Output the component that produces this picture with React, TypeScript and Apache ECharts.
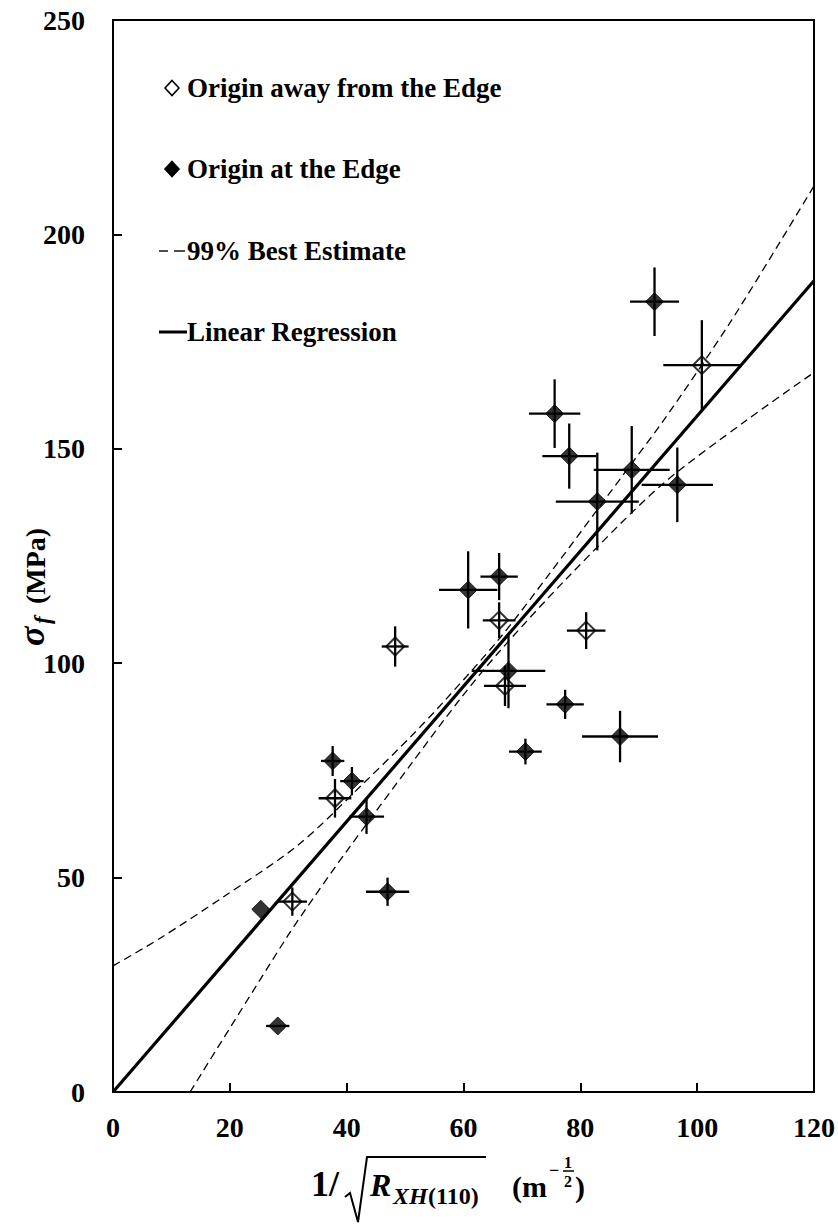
import React, { useEffect, useRef } from "react";
import * as echarts from "echarts";

// ---------- data ----------
const xTickStep = 20;
const yTickStep = 50;
const xRange = [0, 120];
const yRange = [0, 250];

// Origin away from the Edge (open diamonds)
const awayX = [100.8, 66.1, 67.1, 48.3, 81.0, 38.0, 30.7];
const awayY = [169.5, 110.0, 94.7, 103.9, 107.6, 68.5, 44.4];
const awayXErr = [6.6, 2.8, 3.6, 2.3, 3.3, 2.8, 2.5];
const awayYErr = [10.5, 4.2, 4.7, 4.7, 4.3, 4.5, 3.3];

// Origin at the Edge (filled diamonds)
const edgeX = [92.7, 75.6, 78.1, 88.8, 82.9, 96.6, 60.8, 66.1, 67.7, 77.4, 70.6, 86.8, 37.6, 40.9, 43.4, 47.0, 25.3, 28.2];
const edgeY = [184.3, 158.2, 148.3, 145.1, 137.7, 141.6, 117.1, 120.2, 98.2, 90.4, 79.4, 82.9, 77.2, 72.5, 64.2, 46.7, 42.6, 15.4];
const edgeXErr = [4.2, 4.4, 4.6, 6.5, 7.1, 6.1, 5.0, 3.2, 6.3, 3.2, 2.8, 6.5, 2.0, 2.0, 3.0, 3.7, 0, 2.0];
const edgeYErr = [8.0, 8.0, 7.6, 10.2, 11.4, 8.7, 9.0, 5.5, 8.7, 3.4, 3.0, 6.0, 3.5, 3.3, 4.0, 3.3, 0, 0];

// Linear regression
const regX = [0, 120];
const regY = [0, 189.2];

// 99% best estimate bounds
const upperX = [0, 8, 19, 31.7, 43.2, 51.2, 56.6, 66, 74.8, 88.8, 94.4, 105.9, 120];
const upperY = [29.4, 35.8, 45.6, 57.6, 72.4, 83.2, 91.0, 105.5, 121.0, 146.6, 156.9, 180.0, 211.3];
const lowerX = [13.2, 29.9, 34.4, 39.8, 51.2, 59.4, 66, 77.7, 93.6, 108.5, 120];
const lowerY = [0, 36.4, 45.4, 55.8, 76.8, 91.6, 102.5, 119.8, 141.2, 156.7, 167.8];

const legendLabels = [
  "Origin away from the Edge",
  "Origin at the Edge",
  "99% Best Estimate",
  "Linear Regression",
];

const SERIF = '"Liberation Serif", "Times New Roman", serif';

const zip = (xs: number[], ys: number[]) => xs.map((x, i) => [x, ys[i]]);
const zip4 = (a: number[], b: number[], c: number[], d: number[]) =>
  a.map((x, i) => [x, b[i], c[i], d[i]]);

function errorBarRender(params: any, api: any) {
  const x = api.value(0);
  const y = api.value(1);
  const ex = api.value(2);
  const ey = api.value(3);
  const children: any[] = [];
  const style = { stroke: "#000", lineWidth: 2.3 };
  if (ex > 0) {
    const a = api.coord([x - ex, y]);
    const b = api.coord([x + ex, y]);
    children.push({ type: "line", shape: { x1: a[0], y1: a[1], x2: b[0], y2: b[1] }, style });
  }
  if (ey > 0) {
    const a = api.coord([x, y - ey]);
    const b = api.coord([x, y + ey]);
    children.push({ type: "line", shape: { x1: a[0], y1: a[1], x2: b[0], y2: b[1] }, style });
  }
  return { type: "group", children };
}

function txt(x: number, y: number, text: string, size: number, opts: any = {}) {
  return {
    type: "text",
    x,
    y,
    silent: true,
    style: {
      text,
      fill: "#000",
      fontFamily: SERIF,
      fontSize: size,
      fontWeight: "bold",
      fontStyle: opts.italic ? "italic" : "normal",
      textAlign: opts.align || "left",
      verticalAlign: "middle",
    },
  };
}

function diamond(cx: number, cy: number, filled: boolean) {
  return {
    type: "polygon",
    silent: true,
    shape: { points: [[cx, cy - 7.5], [cx + 7, cy], [cx, cy + 7.5], [cx - 7, cy]] },
    style: { fill: filled ? "#000" : "#fff", stroke: "#000", lineWidth: 1.6 },
  };
}

export default function App() {
  const ref = useRef<HTMLDivElement>(null);

  useEffect(() => {
    document.body.style.margin = "0";
    if (!ref.current) return;
    const chart = echarts.init(ref.current, null, { renderer: "svg" });

    const axisLabel = {
      color: "#000",
      fontFamily: SERIF,
      fontWeight: "bold",
      fontSize: 28,
    };

    const legendX = 159;
    const legendTextX = 187;
    const legendY = [88, 169, 251, 332];

    const graphic: any[] = [
      // legend
      diamond(172, legendY[0], false),
      txt(legendTextX, legendY[0], legendLabels[0], 27),
      diamond(172, legendY[1], true),
      txt(legendTextX, legendY[1], legendLabels[1], 27),
      { type: "line", silent: true, shape: { x1: legendX, y1: legendY[2], x2: legendX + 9, y2: legendY[2] }, style: { stroke: "#000", lineWidth: 1.4 } },
      { type: "line", silent: true, shape: { x1: legendX + 15, y1: legendY[2], x2: legendX + 26, y2: legendY[2] }, style: { stroke: "#000", lineWidth: 1.4 } },
      txt(legendTextX, legendY[2], legendLabels[2], 27),
      { type: "line", silent: true, shape: { x1: legendX, y1: legendY[3], x2: legendX + 28, y2: legendY[3] }, style: { stroke: "#000", lineWidth: 3 } },
      txt(legendTextX, legendY[3], legendLabels[3], 27),

      // y axis title (rotated)
      {
        type: "group",
        x: 44,
        y: 646,
        rotation: Math.PI / 2,
        children: [
          txt(0, -12, "σ", 36, { italic: true }),
          txt(22, -2, "f", 23, { italic: true }),
          txt(42, -9, "(MPa)", 28),
        ],
      },

      // x axis title
      txt(311, 1184, "1/", 36),
      {
        type: "polyline",
        silent: true,
        shape: { points: [[345, 1197], [350, 1193], [358, 1222], [367, 1157], [486, 1157]] },
        style: { stroke: "#000", lineWidth: 2, fill: "none" },
      },
      txt(370, 1185, "R", 32, { italic: true }),
      txt(393, 1196, "XH", 24, { italic: true }),
      txt(428, 1196, "(110)", 24),
      txt(512, 1186, "(m", 30),
      txt(549, 1170, "−", 18),
      txt(568, 1162, "1", 16, { align: "center" }),
      { type: "line", silent: true, shape: { x1: 563, y1: 1171, x2: 574, y2: 1171 }, style: { stroke: "#000", lineWidth: 1.5 } },
      txt(568, 1181, "2", 16, { align: "center" }),
      txt(575, 1186, ")", 30),
    ];

    const option: any = {
      animation: false,
      backgroundColor: "#fff",
      grid: {
        left: 113,
        right: 24,
        top: 20,
        bottom: 132,
        show: true,
        borderColor: "#000",
        borderWidth: 2,
        backgroundColor: "transparent",
      },
      xAxis: {
        type: "value",
        min: xRange[0],
        max: xRange[1],
        interval: xTickStep,
        axisLine: { show: true, lineStyle: { color: "#000", width: 2 } },
        axisTick: { show: true, inside: true, length: 9, lineStyle: { color: "#000", width: 2 } },
        splitLine: { show: false },
        axisLabel: { ...axisLabel, margin: 21 },
      },
      yAxis: {
        type: "value",
        min: yRange[0],
        max: yRange[1],
        interval: yTickStep,
        axisLine: { show: true, lineStyle: { color: "#000", width: 2 } },
        axisTick: { show: true, inside: true, length: 9, lineStyle: { color: "#000", width: 2 } },
        splitLine: { show: false },
        axisLabel: { ...axisLabel, margin: 28 },
      },
      series: [
        {
          type: "line",
          name: "99% upper",
          data: zip(upperX, upperY),
          smooth: 0.3,
          showSymbol: false,
          symbol: "none",
          lineStyle: { color: "#000", width: 1.3, type: [8, 5] },
          z: 2,
        },
        {
          type: "line",
          name: "99% lower",
          data: zip(lowerX, lowerY),
          smooth: 0.3,
          showSymbol: false,
          symbol: "none",
          lineStyle: { color: "#000", width: 1.3, type: [8, 5] },
          z: 2,
        },
        {
          type: "line",
          name: "Linear Regression",
          data: zip(regX, regY),
          showSymbol: false,
          symbol: "none",
          lineStyle: { color: "#000", width: 3.2 },
          z: 3,
        },
        {
          type: "custom",
          name: "away err",
          renderItem: errorBarRender,
          data: zip4(awayX, awayY, awayXErr, awayYErr),
          encode: { x: 0, y: 1 },
          z: 4,
        },
        {
          type: "custom",
          name: "edge err",
          renderItem: errorBarRender,
          data: zip4(edgeX, edgeY, edgeXErr, edgeYErr),
          encode: { x: 0, y: 1 },
          z: 4,
        },
        {
          type: "scatter",
          name: "Origin away from the Edge",
          data: zip(awayX, awayY),
          symbol: "diamond",
          symbolSize: 18,
          itemStyle: { color: "rgba(0,0,0,0)", borderColor: "#000", borderWidth: 2 },
          z: 5,
        },
        {
          type: "scatter",
          name: "Origin at the Edge",
          data: zip(edgeX, edgeY),
          symbol: "diamond",
          symbolSize: 18,
          itemStyle: { color: "#000", borderColor: "#000", borderWidth: 1 },
          z: 5,
        },
      ],
      graphic,
    };

    chart.setOption(option);
    return () => chart.dispose();
  }, []);

  return <div ref={ref} style={{ width: 838, height: 1224 }} />;
}
